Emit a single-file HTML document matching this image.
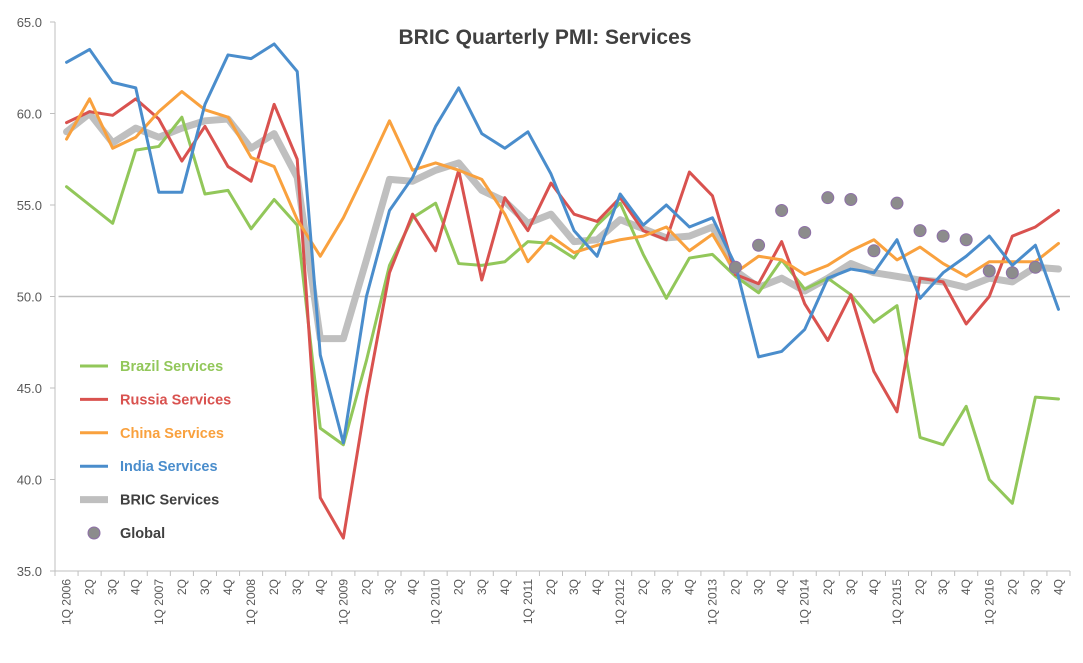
<!DOCTYPE html>
<html><head><meta charset="utf-8"><style>
body{margin:0;background:#fff;}
svg{display:block;font-family:"Liberation Sans",sans-serif;}
</style></head><body>
<svg id="chart" width="1083" height="663" viewBox="0 0 1083 663">
<text x="545" y="44" text-anchor="middle" font-size="21" font-weight="bold" fill="#404040">BRIC Quarterly PMI: Services</text>
<g id="axes"></g><g id="series"></g><g id="legend"></g>
</svg>
<script>
const yTicks=[35,40,45,50,55,60,65];
const years=[2006,2007,2008,2009,2010,2011,2012,2013,2014,2015,2016];
const brazil=[56.0,55.0,54.0,58.0,58.2,59.8,55.6,55.8,53.7,55.3,53.9,42.8,41.9,46.5,51.7,54.3,55.1,51.8,51.7,51.9,53.0,52.9,52.1,53.9,55.1,52.3,49.9,52.1,52.3,51.1,50.2,52.0,50.4,51.0,50.1,48.6,49.5,42.3,41.9,44.0,40.0,38.7,44.5,44.4];
const russia=[59.5,60.1,59.9,60.8,59.7,57.4,59.3,57.1,56.3,60.5,57.5,39.0,36.8,44.5,51.3,54.5,52.5,56.9,50.9,55.4,53.6,56.2,54.5,54.1,55.4,53.6,53.1,56.8,55.5,51.2,50.7,53.0,49.6,47.6,50.1,45.9,43.7,51.0,50.8,48.5,50.0,53.3,53.8,54.7];
const china=[58.6,60.8,58.1,58.7,60.1,61.2,60.2,59.8,57.6,57.1,54.2,52.2,54.3,56.9,59.6,56.9,57.3,56.9,56.4,54.5,51.9,53.3,52.4,52.8,53.1,53.3,53.8,52.5,53.4,51.3,52.2,52.0,51.2,51.7,52.5,53.1,52.0,52.7,51.8,51.1,51.9,51.9,51.9,52.9];
const india=[62.8,63.5,61.7,61.4,55.7,55.7,60.5,63.2,63.0,63.8,62.3,46.8,42.0,50.0,54.7,56.5,59.3,61.4,58.9,58.1,59.0,56.7,53.6,52.2,55.6,53.9,55.0,53.8,54.3,51.7,46.7,47.0,48.2,51.0,51.5,51.3,53.1,49.9,51.3,52.2,53.3,51.7,52.8,49.3];
const bric=[59.0,60.0,58.4,59.2,58.7,59.2,59.6,59.7,58.1,58.9,56.5,47.7,47.7,52.0,56.4,56.3,56.9,57.3,55.8,55.2,54.0,54.5,53.0,53.1,54.2,53.7,53.2,53.3,53.8,51.4,50.5,51.0,50.3,51.0,51.8,51.3,51.1,50.9,50.8,50.5,51.0,50.8,51.6,51.5];
const globalStart=29;
const globalVals=[51.6,52.8,54.7,53.5,55.4,55.3,52.5,55.1,53.6,53.3,53.1,51.4,51.3,51.6];

const NS="http://www.w3.org/2000/svg";
const L=55,R=1070,T=22,B=571,N=44,cw=(R-L)/N;
const x=i=>L+cw*(i+0.5);
const y=v=>T+(65-v)*(B-T)/30;
function mk(tag,at,par){const e=document.createElementNS(NS,tag);for(const k in at)e.setAttribute(k,at[k]);par.appendChild(e);return e;}
const ax=document.getElementById('axes'),sg=document.getElementById('series'),lg=document.getElementById('legend');
let a=mk('line',{x1:L,y1:T,x2:L,y2:B,stroke:'#bfbfbf'},ax);


a=mk('line',{x1:L,y1:B,x2:R,y2:B,stroke:'#bfbfbf'},ax);


yTicks.forEach(v=>{
 mk('line',{x1:L-5,y1:y(v),x2:L,y2:y(v),stroke:'#bfbfbf'},ax);
 const t=mk('text',{x:L-13,y:y(v)+5,'text-anchor':'end','font-size':13,fill:'#595959'},ax);
 t.textContent=v.toFixed(1);
 
 
});
const ref=mk('line',{x1:x(0)-8,y1:y(50),x2:R,y2:y(50),stroke:'#bfbfbf','stroke-width':1.5},ax);


for(let i=0;i<=N;i++)mk('line',{x1:L+cw*i,y1:B,x2:L+cw*i,y2:B+5,stroke:'#bfbfbf'},ax);
for(let i=0;i<N;i++){
 const q=i%4;const lab=q===0?'1Q '+years[i/4|0]:(q+1)+'Q';
 const t=mk('text',{transform:`translate(${x(i)+4},${B+8}) rotate(-90)`,'text-anchor':'end','font-size':12,fill:'#595959'},ax);
 t.textContent=lab;
 
 
}
function line(arr,col,w,name){
 const p=mk('polyline',{points:arr.map((v,i)=>x(i)+','+y(v)).join(' '),fill:'none',stroke:col,'stroke-width':w,'stroke-linejoin':'round','stroke-linecap':'round'},sg);
 
 
}
line(bric,'#bfbfbf',7,'bric-services-line');
line(brazil,'#92c75a',3,'brazil-services-line');
line(russia,'#d9524f',3,'russia-services-line');
line(china,'#f9a13e',3,'china-services-line');
line(india,'#4a8dcc',3,'india-services-line');
globalVals.forEach((v,k)=>{
 const c=mk('circle',{cx:x(globalStart+k),cy:y(v),r:6,fill:'#8c8c8c',stroke:'#8e6fa8','stroke-width':1},sg);
 
 
});
const leg=[['Brazil Services','#92c75a',3],['Russia Services','#d9524f',3],['China Services','#f9a13e',3],['India Services','#4a8dcc',3],['BRIC Services','#bfbfbf',7],['Global',null,0]];
leg.forEach((e,k)=>{
 const yy=366+k*33.4;
 if(e[1]){mk('line',{x1:80,y1:yy,x2:108,y2:yy,stroke:e[1],'stroke-width':e[2]},lg);}
 else mk('circle',{cx:94,cy:yy,r:6,fill:'#8c8c8c',stroke:'#8e6fa8'},lg);
 const t=mk('text',{x:120,y:yy+5,'font-size':14.5,'font-weight':'bold',fill:e[1]&&k<4?e[1]:'#404040'},lg);
 t.textContent=e[0];
 
 
});
</script>
</body></html>
